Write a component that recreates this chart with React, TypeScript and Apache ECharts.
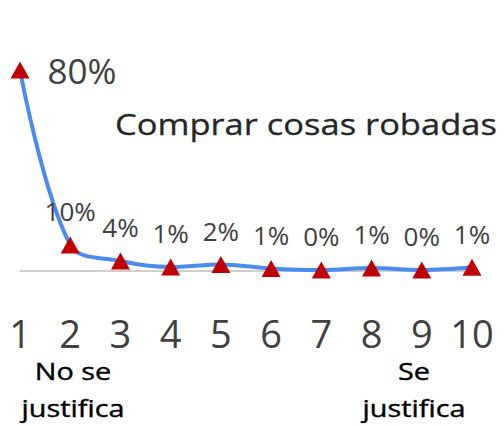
import React, { useEffect, useRef } from "react";
import * as echarts from "echarts";

const categories = ["1", "2", "3", "4", "5", "6", "7", "8", "9", "10"];
const values = [80, 10.2, 3.8, 1.4, 2.4, 0.8, 0.2, 1.0, 0.2, 1.3];
const valueLabels = ["80%", "10%", "4%", "1%", "2%", "1%", "0%", "1%", "0%", "1%"];
const title = "Comprar cosas robadas";
const leftNote = ["No se", "justifica"];
const rightNote = ["Se", "justifica"];

const FONT = "'Open Sans', 'Noto Sans', sans-serif";

export default function App() {
  const ref = useRef<HTMLDivElement>(null);
  useEffect(() => {
    if (!ref.current) return;
    const chart = echarts.init(ref.current, null, { renderer: "svg" });
    const noteStyle = {
      fontSize: 24,
      fontWeight: "normal",
      lineHeight: 37,
      fontFamily: FONT,
      fill: "#000000",
      stroke: "#000000",
      lineWidth: 0.4,
      align: "center",
      verticalAlign: "middle",
    };
    chart.setOption({
      animation: false,
      backgroundColor: "#ffffff",
      grid: { left: 20, right: 32, top: 70, bottom: 155.5, containLabel: false },
      xAxis: {
        type: "category",
        data: categories,
        boundaryGap: false,
        axisLine: { show: true, lineStyle: { color: "#BFBFBF", width: 1.5 } },
        axisTick: { show: false },
        axisLabel: {
          color: "#404040",
          fontSize: 38,
          fontFamily: FONT,
          margin: 43,
          interval: 0,
        },
      },
      yAxis: {
        type: "value",
        min: 0,
        max: 80,
        show: false,
        splitLine: { show: false },
      },
      series: [
        {
          type: "line",
          data: values.map((v, i) =>
            i === 0
              ? {
                  value: v,
                  label: { position: "right", distance: 18, fontSize: 35 },
                }
              : v
          ),
          smooth: 0.35,
          lineStyle: { color: "#4A8BEF", width: 4 },
          symbol: "triangle",
          symbolSize: [19, 17],
          itemStyle: { color: "#C00000" },
          label: {
            show: true,
            position: "top",
            distance: 12,
            color: "#404040",
            fontSize: 26,
            fontFamily: FONT,
            formatter: (p: any) => valueLabels[p.dataIndex],
          },
          z: 3,
        },
      ],
      graphic: [
        {
          type: "text",
          x: 115,
          y: 123,
          scaleX: 1.15,
          style: {
            text: title,
            fontSize: 30,
            fontFamily: FONT,
            fill: "#262626",
            stroke: "#262626",
            lineWidth: 0.3,
            align: "left",
            verticalAlign: "middle",
          },
        },
        {
          type: "text",
          x: 73,
          y: 389,
          scaleX: 1.2,
          style: { ...noteStyle, text: leftNote.join("\n") },
        },
        {
          type: "text",
          x: 414,
          y: 389,
          scaleX: 1.2,
          style: { ...noteStyle, text: rightNote.join("\n") },
        },
      ],
    });
    return () => chart.dispose();
  }, []);
  return (
    <div
      ref={ref}
      style={{ position: "fixed", left: 0, top: 0, width: 504, height: 426 }}
    />
  );
}
